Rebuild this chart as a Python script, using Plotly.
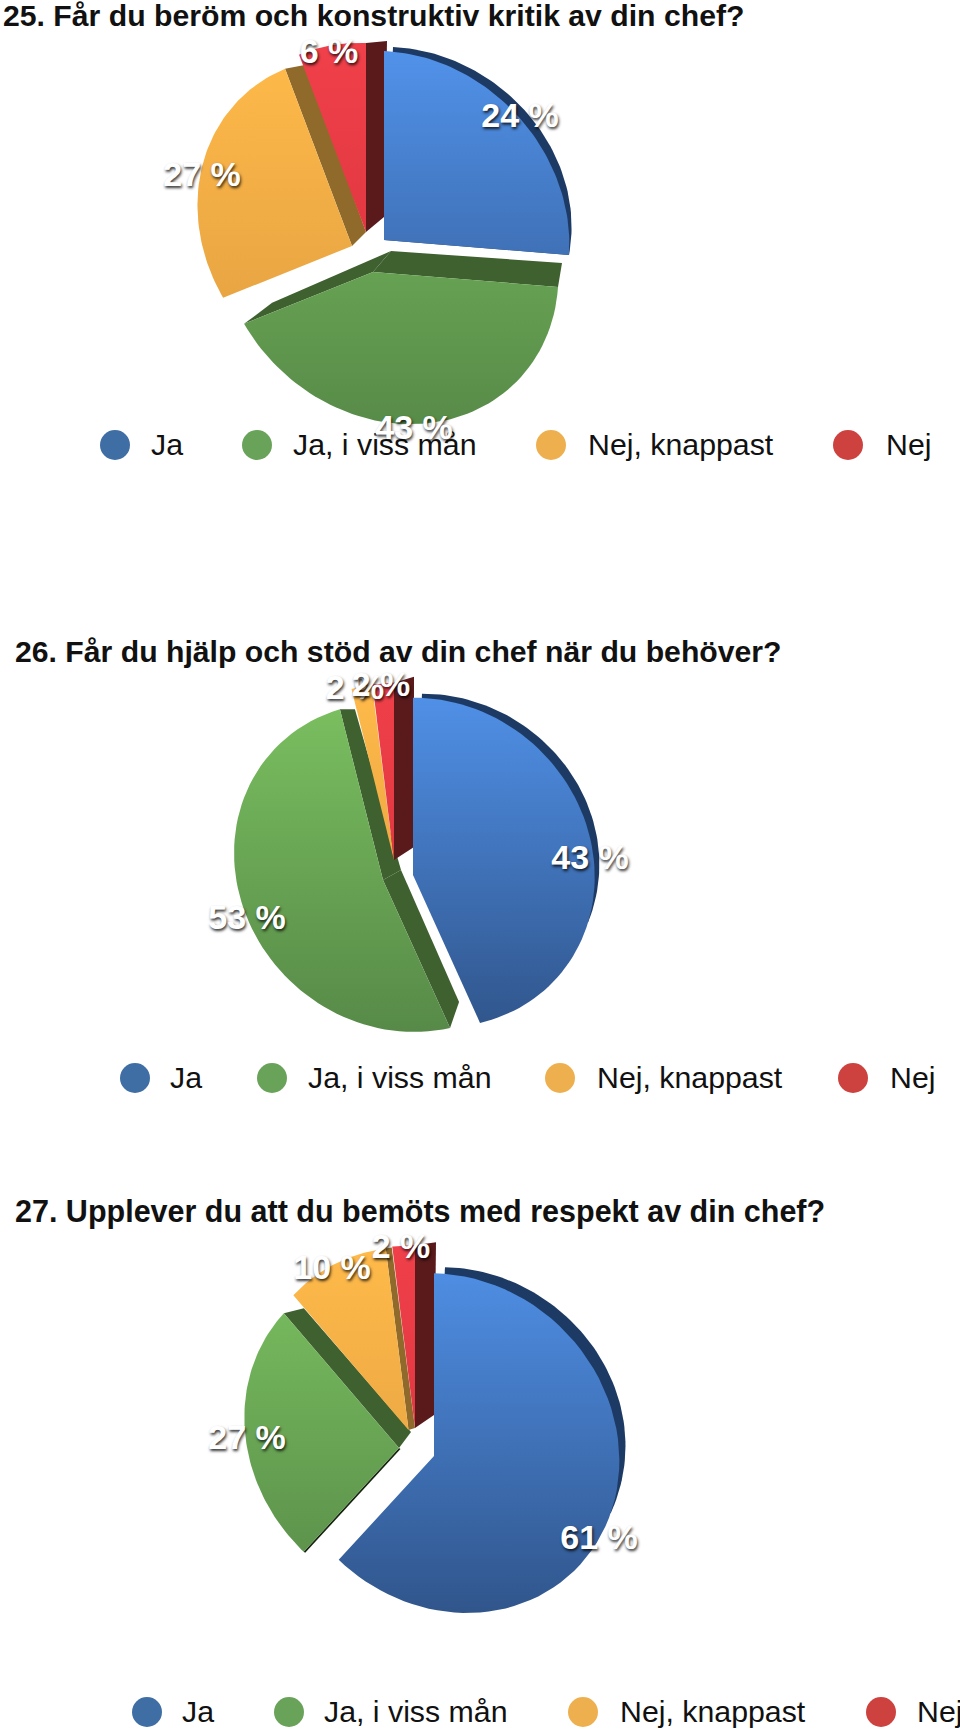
import math
import plotly.graph_objects as go

# ---------- data ----------
CATEGORIES = ["Ja", "Ja, i viss mån", "Nej, knappast", "Nej"]
VALUES_25 = [24, 43, 27, 6]
VALUES_26 = [43, 53, 2, 2]
VALUES_27 = [61, 27, 10, 2]
TITLE_25 = "25. Får du beröm och konstruktiv kritik av din chef?"
TITLE_26 = "26. Får du hjälp och stöd av din chef när du behöver?"
TITLE_27 = "27. Upplever du att du bemöts med respekt av din chef?"

# ---------- styles ----------
FACE = [("#5192ea", "#30558b"), ("#7cc261", "#578a48"),
        ("#ffba4a", "#dd9a3e"), ("#f0404a", "#d23038")]
WALL = ["#1d3a64", "#3f602f", "#8f6a2a", "#5a1a1c"]
MARK = ["#3f6ea5", "#69a35a", "#eeb04f", "#cd423e"]

# ---------- layout of each pie: projection of the tilted disc, apex of each
# slice, the visible side walls, label and legend placement ----------
PIES = [
    dict(values=VALUES_25, title=TITLE_25, title_xy=(3, 18), title_size=30.2, span=(50, 430),
         shape=(167.3, .992, .1216, .09, .1435),
         apex=[(384, 240), (373, 272), (352, 246), (366, 232)],
         order=[2, 3, 0, 1], rim=(9, -4, 100),
         walls={1: [(0, (18, -21), (4, -24)), (1, (18, -21), (28, -21))],
                2: [(1, (14, -14), (21, -4))],
                3: [(1, (18, -15), (21, -2))]},
         labels=[(520, 118), (414, 430), (202, 177), (329, 54)],
         mark_x=[115, 257, 551, 848], text_x=[151, 293, 588, 886], row_y=445),
    dict(values=VALUES_26, title=TITLE_26, title_xy=(15, 654), title_size=30.2, span=(685, 1030),
         shape=(163.1, .993, .086, .0987, .096),
         apex=[(413, 875), (383, 880), (394, 860), (394, 860)],
         order=[1, 2, 3, 0], rim=(9, -4, 100),
         walls={1: [(0, (18, -10), (9, -26)), (1, (18, -10), (15, 0))],
                3: [(1, (20, -13), (20, -6))]},
         labels=[(590, 860), (247, 920), (355, 690), (381, 687)],
         mark_x=[135, 272, 560, 853], text_x=[170, 308, 597, 890], row_y=1078),
    dict(values=VALUES_27, title=TITLE_27, title_xy=(15, 1214), title_size=30.5, span=(1245, 1615),
         shape=(168, .994, .086, .09, .112),
         apex=[(434, 1456), (399, 1448), (408.5, 1430), (415, 1428)],
         order=[1, 2, 3, 0], rim=(11, -6, 102),
         walls={1: [(1, (12, -16), (20, -5)), (0, (1.5, 1), (1.5, 1))],
                2: [(1, (6.5, -2), (6, -1))],
                3: [(1, (19, -13), (21, -3))]},
         labels=[(599, 1540), (247, 1440), (332, 1270), (401, 1249)],
         mark_x=[147, 289, 583, 881], text_x=[182, 324, 620, 917], row_y=1712),
]


def project(theta, apex, shape):
    R, q, p, r, s = shape
    u, v = math.sin(theta), math.cos(theta)
    w = 1 - p * v - r * u
    return apex[0] + R * u / w, apex[1] + R * (-q * v + s * u) / w


def arc(a0, a1, apex, shape, n=70):
    return [project(a0 + (a1 - a0) * i / n, apex, shape) for i in range(n + 1)]


def polygon(fig, pts, **style):
    fig.add_trace(go.Scatter(x=[p[0] for p in pts], y=[p[1] for p in pts],
                             mode="lines", line=dict(width=0), fill="toself",
                             hoverinfo="skip", showlegend=False, **style))


fig = go.Figure()
for pie in PIES:
    vals, shape = pie["values"], pie["shape"]
    total = sum(vals)
    edges, c = [], 0
    for v in vals:
        edges.append((2 * math.pi * c / total, 2 * math.pi * (c + v) / total))
        c += v
    top, bottom = pie["span"]
    for i in pie["order"]:
        a0, a1 = edges[i]
        A = pie["apex"][i]
        if i == 0:  # outer wall seen behind the first slice, tapering away
            dx, dy, stop = pie["rim"]
            b = min(math.radians(stop), a1)
            n = 70
            pts = []
            for k in range(n + 1):
                t = b * k / n
                x, y = project(t, A, shape)
                f = 1 - (k / n) ** 4
                pts.append((x + dx * f, y + dy * f))
            polygon(fig, pts + [A], fillcolor=WALL[i])
        for edge, off_a, off_r in pie["walls"].get(i, []):
            P = project(a0 if edge == 0 else a1, A, shape)
            polygon(fig, [A, P, (P[0] + off_r[0], P[1] + off_r[1]),
                          (A[0] + off_a[0], A[1] + off_a[1])],
                    fillcolor=WALL[i] if i != 1 or off_a[0] > 2 else "#16240f")
        polygon(fig, [A] + arc(a0, a1, A, shape),
                fillgradient=dict(type="vertical", start=bottom, stop=top,
                                  colorscale=[[0, FACE[i][1]], [1, FACE[i][0]]]))

    # legend row
    fig.add_trace(go.Scatter(x=pie["mark_x"], y=[pie["row_y"]] * 4, mode="markers",
                             marker=dict(size=30, color=MARK, line=dict(width=0)),
                             hoverinfo="skip", showlegend=False))
    fig.add_trace(go.Scatter(x=pie["text_x"], y=[pie["row_y"] + 2] * 4, mode="text",
                             text=CATEGORIES, textposition="middle right",
                             textfont=dict(family="Liberation Sans", size=30.3, color="#111"),
                             hoverinfo="skip", showlegend=False))
    # title
    fig.add_trace(go.Scatter(x=[pie["title_xy"][0]], y=[pie["title_xy"][1]], mode="text",
                             text=[pie["title"]], textposition="middle right",
                             textfont=dict(family="Liberation Sans", size=pie["title_size"],
                                           color="#111", weight=700),
                             hoverinfo="skip", showlegend=False))
    # value labels
    fig.add_trace(go.Scatter(x=[p[0] for p in pie["labels"]], y=[p[1] for p in pie["labels"]],
                             mode="text", text=[f"{v} %" for v in vals],
                             textposition="middle center",
                             textfont=dict(family="Liberation Sans", size=34, color="white",
                                           weight=700,
                                           shadow="1px 2px 3px rgba(0,0,0,0.8)"),
                             hoverinfo="skip", showlegend=False))

fig.update_layout(width=960, height=1732, margin=dict(l=0, r=0, t=0, b=0),
                  paper_bgcolor="white", plot_bgcolor="white", showlegend=False)
fig.update_xaxes(range=[0, 960], visible=False, fixedrange=True)
fig.update_yaxes(range=[1732, 0], visible=False, fixedrange=True)
fig.write_html("out.html", config=dict(displayModeBar=False),
               post_script="document.body.style.margin='0';")
